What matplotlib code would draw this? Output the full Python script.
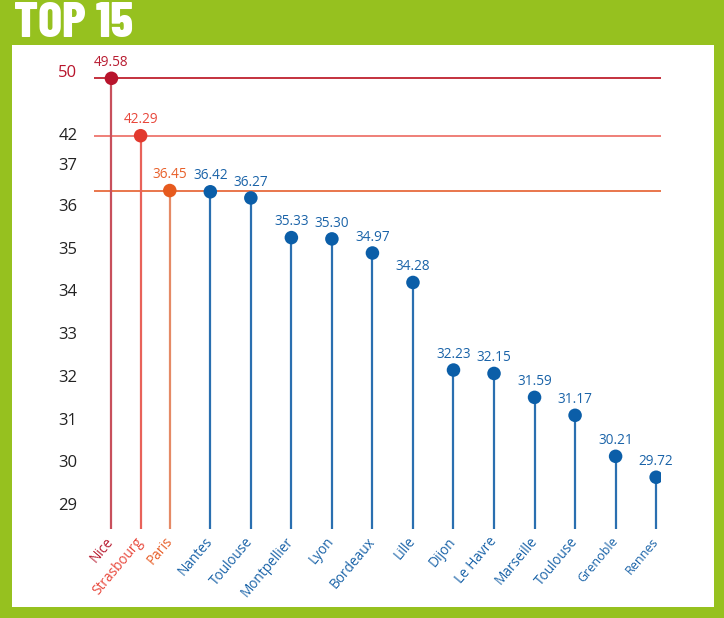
import numpy as np
import matplotlib.pyplot as plt
from matplotlib.patches import Rectangle
from matplotlib.transforms import ScaledTranslation

# data
cities = ['Nice', 'Strasbourg', 'Paris', 'Nantes', 'Toulouse', 'Montpellier', 'Lyon',
          'Bordeaux', 'Lille', 'Dijon', 'Le Havre', 'Marseille', 'Toulouse', 'Grenoble', 'Rennes']
values = [49.58, 42.29, 36.45, 36.42, 36.27, 35.33, 35.30, 34.97, 34.28,
          32.23, 32.15, 31.59, 31.17, 30.21, 29.72]
ytick_vals = [50, 42, 37, 36, 35, 34, 33, 32, 31, 30, 29]

# layout: the first three stems sit closer together
xpos = [0, 0.72, 1.44] + [2.44 + i for i in range(12)]

dot_cols = ['#b8142c', '#e2392e', '#e65a1e'] + ['#0b5ea8'] * 12
stem_cols = ['#c8505c', '#e8625a', '#e58a66'] + ['#2a6fb0'] * 12
txt_cols = ['#b81c31', '#e8473b', '#e8602a'] + ['#1a63a8'] * 12
hline_cols = ['#c4313d', '#ef7f78', '#e9764c']

# broken (piecewise) y scale, anchors in pixels from the top of the image
H = 618
scale_vals = np.array([28, 29, 36, 37, 42, 50, 54])
scale_pix = np.array([550.7, 508, 209, 168, 138, 75, 43.5])
up = H - scale_pix


def fwd(v):
    return np.interp(v, scale_vals, up)


def inv(u):
    return np.interp(u, up, scale_vals)


fig = plt.figure(figsize=(7.24, 6.18), dpi=100)
fig.patch.set_facecolor('#96c11f')
fig.patches.append(Rectangle((12 / 724, 1 - 607 / H), (714 - 12) / 724, (607 - 45) / H,
                             transform=fig.transFigure, facecolor='white', edgecolor='none', zorder=-5))

ylo, yhi = 28.5, 53.8
ax = fig.add_axes([94 / 724, fwd(ylo) / H, (661 - 94) / 724, (fwd(yhi) - fwd(ylo)) / H])
ax.set_zorder(2)
ax.set_facecolor('none')
ax.set_yscale('function', functions=(fwd, inv))
ax.set_ylim(ylo, yhi)
ax.set_xlim(-0.43, 13.56)

for i in range(3):
    ax.axhline(values[i], color=hline_cols[i], lw=1.4, zorder=1)

ax.vlines(xpos, ylo, values, colors=stem_cols, lw=1.6, zorder=2)
ax.scatter(xpos, values, s=95, c=dot_cols, zorder=3, edgecolors='none')

for x, v, c in zip(xpos, values, txt_cols):
    ax.annotate(f'{v:.2f}', (x, v), xytext=(0, 6), textcoords='offset points',
                ha='center', va='bottom', fontsize=9.8, color=c, family='Open Sans')

for s in ax.spines.values():
    s.set_visible(False)

ax.set_yticks(ytick_vals)
ax.set_yticklabels([str(t) for t in ytick_vals], fontsize=12, family='Open Sans')
ax.tick_params(axis='y', length=0, pad=12)
shift = ScaledTranslation(0, 0.04, fig.dpi_scale_trans)
for lab in ax.get_yticklabels():
    lab.set_transform(lab.get_transform() + shift)
    lab.set_color('#b8142c' if lab.get_text() == '50' else '#222222')

ax.set_xticks(xpos)
ax.set_xticklabels(cities, rotation=50, ha='right', va='center', rotation_mode='anchor',
                   fontsize=9.8, family='Open Sans')
ax.tick_params(axis='x', length=0, pad=7)
for lab, c in zip(ax.get_xticklabels(), txt_cols):
    lab.set_color(c)
for lab in ax.get_xticklabels()[-2:]:
    lab.set_fontsize(9)

fig.text(14 / 724, 1 - 2 / H, 'TOP 15', color='white', fontsize=36, fontweight=800,
         family=['Barlow Condensed', 'DejaVu Sans'], va='top', ha='left')

fig.savefig('out.png', dpi=100, facecolor=fig.get_facecolor())
